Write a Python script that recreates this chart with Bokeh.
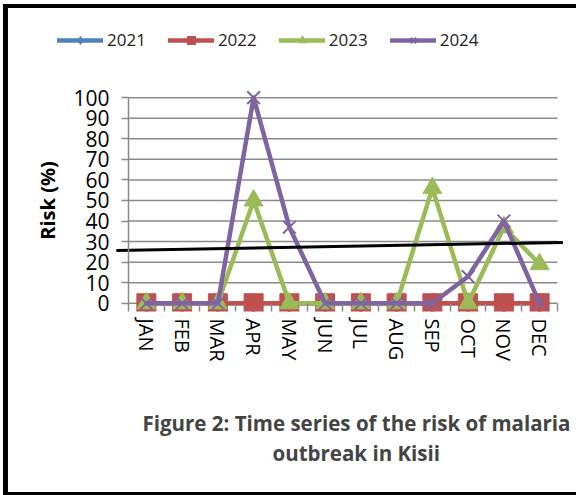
from bokeh.plotting import figure
from bokeh.models import Range1d, FixedTicker, Legend, LegendItem, Title
from bokeh.embed import file_html
from bokeh.resources import INLINE

# ---- data ----
months = ["JAN", "FEB", "MAR", "APR", "MAY", "JUN", "JUL", "AUG", "SEP", "OCT", "NOV", "DEC"]
risk_2021 = [0, 0, 0, 0, 0, 0, 0, 0, 0, 0, 0, 0]
risk_2022 = [0, 0, 0, 0, 0, 0, 0, 0, 0, 0, 0, 0]
risk_2023 = [0, 0, 0, 50, 0, 0, 0, 0, 56, 0, 37, 19]
risk_2024 = [0, 0, 0, 100, 37, 0, 0, 0, 0, 13, 40, 0]
y_ticks = [0, 10, 20, 30, 40, 50, 60, 70, 80, 90, 100]
threshold_x = [-0.84, 11.65]
threshold_y = [25.7, 29.6]

FONT = "Open Sans"
GRID = "#8a8a8a"

x = list(range(len(months)))
cat_lo, cat_hi = -0.5, len(months) - 0.5

p = figure(width=573, height=491, output_backend="svg", toolbar_location=None,
           x_range=Range1d(-3.297, 11.808), y_range=Range1d(-4, 138.5),
           min_border_left=20, min_border_right=13, min_border_top=10, min_border_bottom=188)
p.outline_line_color = None
p.background_fill_color = "white"
p.border_fill_color = "white"
p.styles = {"margin-left": "3px", "margin-top": "4px", "margin-bottom": "-12px",
            "overflow": "hidden",
            "border-left": "5px solid black", "border-top": "4px solid black",
            "border-bottom": "3px solid black"}

# horizontal grid lines, limited to the category area
p.xgrid.visible = False
p.ygrid.visible = False
p.segment(x0=[cat_lo] * len(y_ticks), x1=[cat_hi] * len(y_ticks), y0=y_ticks, y1=y_ticks,
          line_color=GRID, line_width=1.5)

ya = p.yaxis[0]
ya.fixed_location = cat_lo
ya.ticker = FixedTicker(ticks=y_ticks)
ya.bounds = (0, 100)
ya.axis_line_color = GRID
ya.axis_line_width = 1.5
ya.major_tick_line_color = GRID
ya.major_tick_line_width = 1.5
ya.major_tick_out = 7
ya.major_tick_in = 0
ya.minor_tick_line_color = None
ya.major_label_text_font = FONT
ya.major_label_text_font_size = "21px"
ya.major_label_text_color = "black"
ya.major_label_standoff = 12
ya.axis_label = "Risk (%)"
ya.axis_label_text_font = FONT
ya.axis_label_text_font_size = "20px"
ya.axis_label_text_font_style = "bold"
ya.axis_label_text_color = "black"
ya.axis_label_standoff = 9

xa = p.xaxis[0]
xa.ticker = FixedTicker(ticks=x, minor_ticks=[i - 0.5 for i in range(len(months) + 1)])
xa.major_label_overrides = {i: m for i, m in enumerate(months)}
xa.axis_line_color = None
xa.major_tick_line_color = None
xa.major_tick_out = 0
xa.major_tick_in = 0
xa.minor_tick_line_color = GRID
xa.minor_tick_line_width = 1.5
xa.minor_tick_out = 0
xa.minor_tick_in = 8
xa.major_label_orientation = "vertical"
xa.major_label_text_font = FONT
xa.major_label_text_font_size = "20px"
xa.major_label_text_color = "black"
xa.major_label_standoff = 7

# series
series = [
    ("2021", risk_2021, "#4F81BD", "diamond", 20),
    ("2022", risk_2022, "#C0504D", "square", 19),
    ("2023", risk_2023, "#9BBB59", "triangle", 19),
    ("2024", risk_2024, "#8064A2", "x", 18),
]
items = []
for label, ys, color, marker, size in series:
    lr = p.line(x, ys, line_width=4.5, line_color=color, line_cap="round", line_join="round")
    if marker == "x":
        sr = p.scatter(x, ys, marker=marker, size=size, line_color=color, line_width=2)
    else:
        sr = p.scatter(x, ys, marker=marker, size=size, fill_color=color, line_color=color)
    items.append(LegendItem(label=label, renderers=[lr, sr]))

p.line(threshold_x, threshold_y, line_color="black", line_width=3)

legend = Legend(items=items, orientation="horizontal", location=(29, 260),
                glyph_width=46, glyph_height=20, label_standoff=4, spacing=22,
                padding=0, margin=0, border_line_color=None, background_fill_alpha=0,
                label_text_font=FONT, label_text_font_size="17px", label_text_color="#222222")
p.add_layout(legend, "center")

t0 = Title(text=" ", align="center", text_font=FONT, text_font_size="10px", standoff=26)
t1 = Title(text="Figure 2: Time series of the risk of malaria", align="left", offset=114,
           text_font=FONT, text_font_size="20.5px", text_font_style="bold", standoff=0)
t2 = Title(text="outbreak in Kisii", align="left", offset=244,
           text_font=FONT, text_font_size="20.5px", text_font_style="bold", standoff=0)
p.add_layout(t0, "below")
p.add_layout(t1, "below")
p.add_layout(t2, "below")

open("out.html", "w").write(file_html(p, INLINE))
